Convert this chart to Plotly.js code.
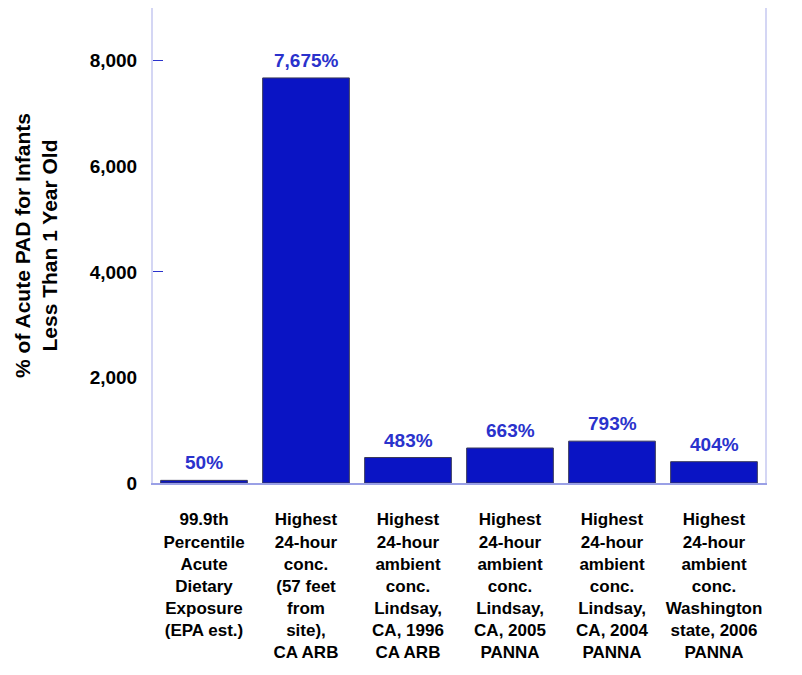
<!DOCTYPE html>
<html>
<head>
<meta charset="utf-8">
<script src="https://cdn.plot.ly/plotly-3.0.1.min.js"></script>
<style>html,body{margin:0;padding:0;background:#fff;}#chart{width:802px;height:675px;}</style>
</head>
<body>
<div id="chart"></div>
<script>
const categories = [
  "99.9th<br>Percentile<br>Acute<br>Dietary<br>Exposure<br>(EPA est.)",
  "Highest<br>24-hour<br>conc.<br>(57 feet<br>from<br>site),<br>CA ARB",
  "Highest<br>24-hour<br>ambient<br>conc.<br>Lindsay,<br>CA, 1996<br>CA ARB",
  "Highest<br>24-hour<br>ambient<br>conc.<br>Lindsay,<br>CA, 2005<br>PANNA",
  "Highest<br>24-hour<br>ambient<br>conc.<br>Lindsay,<br>CA, 2004<br>PANNA",
  "Highest<br>24-hour<br>ambient<br>conc.<br>Washington<br>state, 2006<br>PANNA"
];
const values = [50, 7675, 483, 663, 793, 404];
const valueLabels = ["50%", "7,675%", "483%", "663%", "793%", "404%"];
const yTicks = [0, 2000, 4000, 6000, 8000];
const yTickMarks = [4000, 8000];
const yRange = [0, 9000];

const FONT = 'Liberation Sans, Arial, sans-serif';

const barTrace = {
  type: 'bar',
  x: categories,
  y: values,
  marker: {color: '#0a14c4', line: {color: '#3a3a5a', width: 1}},
  hoverinfo: 'none'
};
const tickHolder = {
  type: 'scatter', x: [], y: [], yaxis: 'y2', hoverinfo: 'none', showlegend: false
};

const annotations = categories.map((c, i) => ({
  x: c, y: values[i], xref: 'x', yref: 'y',
  text: valueLabels[i], showarrow: false,
  yanchor: 'bottom', yshift: 5,
  font: {family: FONT, size: 19, color: '#2a32cc', weight: 'bold'}
}));

const layout = {
  width: 802, height: 675,
  margin: {l: 153, r: 37, t: 8, b: 192},
  paper_bgcolor: '#ffffff', plot_bgcolor: '#ffffff',
  showlegend: false,
  bargap: 0.15,
  font: {family: FONT, color: '#000'},
  annotations: annotations,
  xaxis: {
    type: 'category',
    showgrid: false,
    zeroline: false,
    showline: true,
    linecolor: '#9aa0e6',
    linewidth: 2,
    ticks: '',
    tickfont: {size: 17, color: '#000', weight: 'bold'},
    ticklabelstandoff: 20,
    automargin: false
  },
  yaxis: {
    range: yRange,
    tickvals: yTicks,
    ticktext: yTicks.map(v => v.toLocaleString('en-US')),
    showgrid: false,
    zeroline: false,
    showline: true,
    mirror: true,
    linecolor: '#d4d6f4',
    linewidth: 2,
    ticks: '',
    tickfont: {size: 19, color: '#000', weight: 'bold'},
    ticklabelstandoff: 10,
    title: {
      text: '% of Acute PAD for Infants<br>Less Than 1 Year Old',
      font: {size: 21, color: '#000', weight: 'bold'},
      standoff: 26
    },
    automargin: false
  },
  yaxis2: {
    overlaying: 'y',
    side: 'left',
    range: yRange,
    tickvals: yTickMarks,
    showticklabels: false,
    ticks: 'inside',
    ticklen: 10,
    tickcolor: '#2a32cc',
    tickwidth: 1,
    showline: false,
    showgrid: false,
    zeroline: false
  }
};

Plotly.newPlot('chart', [barTrace, tickHolder], layout, {displayModeBar: false, staticPlot: true});
</script>
</body>
</html>
